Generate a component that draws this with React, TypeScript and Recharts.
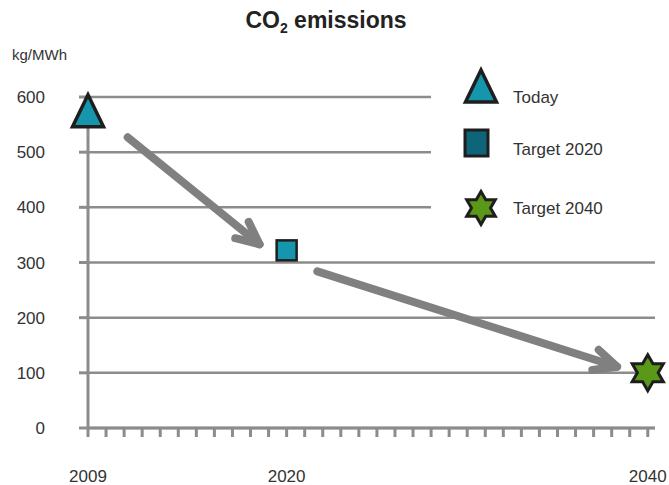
import * as React from 'react'
import {
  ScatterChart,
  Scatter,
  XAxis,
  YAxis,
  CartesianGrid,
  ReferenceLine,
} from 'recharts'

// series: one point each
const seriesNames = ['Today', 'Target 2020', 'Target 2040']
const seriesYears = [2009, 2020, 2040]
const seriesValues = [575, 322, 100]

// axes
const yTicks = [0, 100, 200, 300, 400, 500, 600]
const xLabelYears = [2009, 2020, 2040]
const xTickYears = [
  2009, 2010, 2011, 2012, 2013, 2014, 2015, 2016, 2017, 2018, 2019, 2020,
  2021, 2022, 2023, 2024, 2025, 2026, 2027, 2028, 2029, 2030, 2031, 2032,
  2033, 2034, 2035, 2036, 2037, 2038, 2039, 2040,
]

// trend arrows (start / tip, in data units)
const arrowStarts = [
  { year: 2011.2, value: 527 },
  { year: 2021.7, value: 284 },
]
const arrowTips = [
  { year: 2018.5, value: 333 },
  { year: 2038.3, value: 111 },
]

const FONT = '"Liberation Sans", Arial, sans-serif'
const GRAY = '#8c8c8c'
const TEXT = '#333333'
const TEAL = '#1596ac'
const TEAL_DARK = '#0e6478'
const GREEN = '#5a9818'
const OUTLINE = '#1e1e1e'

const triangle = (cx: number, cy: number, w: number, h: number) =>
  `M${cx},${cy - h / 2} L${cx + w / 2},${cy + h / 2} L${cx - w / 2},${cy + h / 2} Z`

const hexagram = (cx: number, cy: number, r: number) => {
  const inner = r / Math.sqrt(3)
  const pts: string[] = []
  for (let i = 0; i < 12; i++) {
    const ang = (-90 + i * 30) * (Math.PI / 180)
    const rad = i % 2 === 0 ? r : inner
    pts.push(`${cx + rad * Math.cos(ang)},${cy + rad * Math.sin(ang)}`)
  }
  return `M${pts.join(' L')} Z`
}

const TriangleShape = (props: any) => (
  <path
    d={triangle(props.cx, props.cy, 31, 32)}
    fill={TEAL}
    stroke={OUTLINE}
    strokeWidth={3.5}
    strokeLinejoin="miter"
  />
)

const SquareShape = (props: any) => (
  <rect
    x={props.cx - 10}
    y={props.cy - 10}
    width={20}
    height={20}
    fill={TEAL}
    stroke={OUTLINE}
    strokeWidth={2.5}
  />
)

const StarShape = (props: any) => (
  <path d={hexagram(props.cx, props.cy, 18)} fill={GREEN} stroke={OUTLINE} strokeWidth={3} />
)

const ArrowShape = (props: any) => {
  const { x1, y1, x2, y2 } = props
  const back = Math.atan2(y1 - y2, x1 - x2)
  const len = 25
  const spread = (25 * Math.PI) / 180
  const ax = x2 + len * Math.cos(back + spread)
  const ay = y2 + len * Math.sin(back + spread)
  const bx = x2 + len * Math.cos(back - spread)
  const by = y2 + len * Math.sin(back - spread)
  return (
    <g>
      <line x1={x1} y1={y1} x2={x2} y2={y2} stroke="#808080" strokeWidth={8} strokeLinecap="round" />
      <path
        d={`M${ax},${ay} L${x2},${y2} L${bx},${by}`}
        fill="none"
        stroke="#808080"
        strokeWidth={8}
        strokeLinecap="round"
        strokeLinejoin="round"
      />
    </g>
  )
}

const XTick = (props: any) => {
  const { x, y, payload } = props
  if (!xLabelYears.includes(payload.value)) return <g />
  return (
    <text x={x} y={y + 43} textAnchor="middle" fontSize={17} fill={TEXT} fontFamily={FONT}>
      {payload.value}
    </text>
  )
}

const shapes = [TriangleShape, SquareShape, StarShape]

export default function App() {
  const series = seriesNames.map((name, i) => ({
    name,
    data: [{ year: seriesYears[i], value: seriesValues[i] }],
    shape: shapes[i],
  }))

  return (
    <div style={{ position: 'absolute', left: 0, top: 0, width: 669, height: 485, fontFamily: FONT, background: '#fff' }}>
      <div
        style={{
          position: 'absolute',
          left: 0,
          top: 7,
          width: 652,
          textAlign: 'center',
          fontSize: 23,
          fontWeight: 'bold',
          lineHeight: '26px',
          color: '#222',
        }}
      >
        CO<sub style={{ fontSize: 14, verticalAlign: -5, lineHeight: 0 }}>2</sub> emissions
      </div>
      <div style={{ position: 'absolute', left: 12, top: 46, fontSize: 15, lineHeight: '18px', color: TEXT }}>
        kg/MWh
      </div>

      <ScatterChart
        width={669}
        height={485}
        margin={{ top: 97, right: 14, bottom: 0, left: 0 }}
        style={{ fontFamily: FONT }}
      >
        <CartesianGrid horizontal vertical={false} stroke={GRAY} strokeWidth={2.5} />
        <XAxis
          type="number"
          dataKey="year"
          domain={[2009, 2040.4]}
          ticks={xTickYears}
          interval={0}
          height={57}
          axisLine={{ stroke: GRAY, strokeWidth: 3 }}
          tickLine={{ stroke: GRAY, strokeWidth: 3 }}
          tickSize={9}
          tick={<XTick />}
        />
        <YAxis
          type="number"
          dataKey="value"
          domain={[0, 600]}
          ticks={yTicks}
          width={88}
          axisLine={{ stroke: GRAY, strokeWidth: 3 }}
          tickLine={{ stroke: GRAY, strokeWidth: 3 }}
          tickSize={9}
          tickMargin={34}
          tick={{ fontSize: 17, fill: TEXT, fontFamily: FONT }}
        />
        {arrowStarts.map((s, i) => (
          <ReferenceLine
            key={i}
            segment={[
              { x: s.year, y: s.value },
              { x: arrowTips[i].year, y: arrowTips[i].value },
            ]}
            shape={ArrowShape}
          />
        ))}
        {series.map((s) => (
          <Scatter key={s.name} name={s.name} data={s.data} shape={s.shape} isAnimationActive={false} />
        ))}
      </ScatterChart>

      {/* legend, on white so it masks the upper grid lines */}
      <div style={{ position: 'absolute', left: 431, top: 60, width: 238, height: 176, background: '#fff' }}>
        <svg width={238} height={176}>
          <path d={triangle(50, 26, 31, 32)} fill={TEAL} stroke={OUTLINE} strokeWidth={3.5} />
          <rect x={34} y={70} width={23} height={26} fill={TEAL_DARK} stroke={OUTLINE} strokeWidth={3} />
          <path d={hexagram(50, 148, 16.5)} fill={GREEN} stroke={OUTLINE} strokeWidth={3} />
          {seriesNames.map((name, i) => (
            <text
              key={name}
              x={82}
              y={[37, 89, 148][i]}
              dominantBaseline="central"
              fontSize={17}
              fill={TEXT}
              fontFamily={FONT}
            >
              {name}
            </text>
          ))}
        </svg>
      </div>
    </div>
  )
}
